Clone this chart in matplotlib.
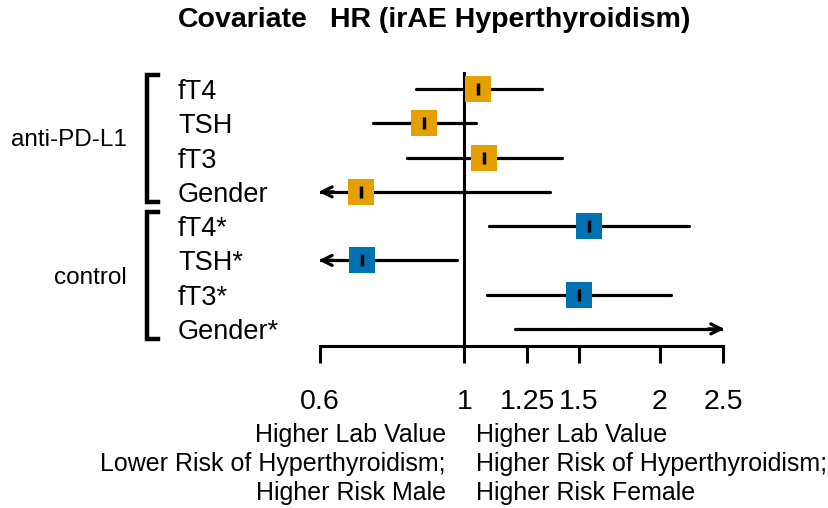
import numpy as np
import matplotlib
matplotlib.use("Agg")
import matplotlib.pyplot as plt
from matplotlib.lines import Line2D
import matplotlib.transforms as mtransforms

plt.rcParams['font.family'] = ['Liberation Sans', 'DejaVu Sans']

# ---- data ----
labels = ["fT4", "TSH", "fT3", "Gender", "fT4*", "TSH*", "fT3*", "Gender*"]
groups = ["anti-PD-L1", "anti-PD-L1", "anti-PD-L1", "anti-PD-L1",
          "control", "control", "control", "control"]
hr = [1.05, 0.867, 1.073, 0.693, 1.555, 0.697, 1.499, 2.9]
lower = [0.842, 0.723, 0.817, 0.45, 1.093, 0.45, 1.085, 1.197]
upper = [1.315, 1.041, 1.415, 1.355, 2.216, 0.973, 2.077, 6.0]
group_names = ["anti-PD-L1", "control"]
group_colors = {"anti-PD-L1": "#E69F00", "control": "#0072B2"}
xticks = [0.6, 1, 1.25, 1.5, 2, 2.5]
xticklabels = ["0.6", "1", "1.25", "1.5", "2", "2.5"]
xmin, xmax = 0.6, 2.5

W, H = 829, 508
fig = plt.figure(figsize=(W / 100, H / 100), dpi=100)
ax = fig.add_axes([320 / W, 1 - 346 / H, (723 - 320) / W, (346 - 72) / H])
ax.set_xscale('log')
ax.set_xlim(xmin, xmax)
n = len(labels)
ax.set_ylim(n + 0.5, 0.5)
for s in ['top', 'right', 'left']:
    ax.spines[s].set_visible(False)
ax.spines['bottom'].set_linewidth(2.2)
ax.set_yticks([])
ax.xaxis.set_minor_locator(matplotlib.ticker.NullLocator())
ax.set_xticks(xticks)
ax.set_xticklabels(xticklabels, fontsize=20.5)
ax.tick_params(axis='x', direction='out', length=12, width=2.2, pad=19)
ax.axvline(1, color='black', lw=2.2, zorder=1)

rows = np.arange(1, n + 1)
for y, h, lo, up, g in zip(rows, hr, lower, upper, groups):
    lo_c = max(lo, xmin)
    up_c = min(up, xmax)
    ax.plot([lo_c, up_c], [y, y], color='black', lw=2.3, solid_capstyle='round', zorder=2)
    if lo < xmin:
        ax.annotate("", xy=(xmin * 0.995, y), xytext=(xmin * 1.05, y),
                    arrowprops=dict(arrowstyle='->', lw=2.3, color='black',
                                    mutation_scale=18, shrinkA=0, shrinkB=0),
                    annotation_clip=False, zorder=3)
    if up > xmax:
        ax.annotate("", xy=(xmax * 1.005, y), xytext=(xmax * 0.95, y),
                    arrowprops=dict(arrowstyle='->', lw=2.3, color='black',
                                    mutation_scale=18, shrinkA=0, shrinkB=0),
                    annotation_clip=False, zorder=3)
    if xmin <= h <= xmax:
        ax.plot([h], [y], marker='s', markersize=18.5, color=group_colors[g],
                markeredgewidth=0, zorder=4)
        ax.plot([h], [y], marker='|', markersize=9, markeredgewidth=2.5,
                color='black', zorder=5)

# row labels
trans = mtransforms.blended_transform_factory(fig.transFigure, ax.transData)
for y, lab in zip(rows, labels):
    fig.text(178 / W, y, lab, transform=trans, fontsize=19.5, ha='left',
             va='center_baseline')

# group brackets and labels
for gname in group_names:
    ys = [y for y, g in zip(rows, groups) if g == gname]
    top, bot = min(ys) - 0.41, max(ys) + 0.3
    xb, xa = 147 / W, 158 / W
    line = Line2D([xa, xb, xb, xa], [top, top, bot, bot], transform=trans,
                  color='black', lw=3.2, solid_joinstyle='miter')
    fig.add_artist(line)
    fig.text(127 / W, (min(ys) + max(ys)) / 2, gname, transform=trans,
             fontsize=17.5, ha='right', va='center')

# titles
fig.text(178 / W, 1 - 20 / H, "Covariate", fontsize=20.5, fontweight='bold',
         ha='left', va='center')
fig.text(330 / W, 1 - 20 / H, "HR (irAE Hyperthyroidism)", fontsize=20.5,
         fontweight='bold', ha='left', va='center')

# bottom explanatory text
left_txt = ["Higher Lab Value", "Lower Risk of Hyperthyroidism;", "Higher Risk Male"]
right_txt = ["Higher Lab Value", "Higher Risk of Hyperthyroidism;", "Higher Risk Female"]
for i, (lt, rt) in enumerate(zip(left_txt, right_txt)):
    yy = 1 - (435 + 29 * i) / H
    fig.text(446 / W, yy, lt, fontsize=18, ha='right', va='center')
    fig.text(476 / W, yy, rt, fontsize=18, ha='left', va='center')

fig.savefig("out.png", dpi=100)
